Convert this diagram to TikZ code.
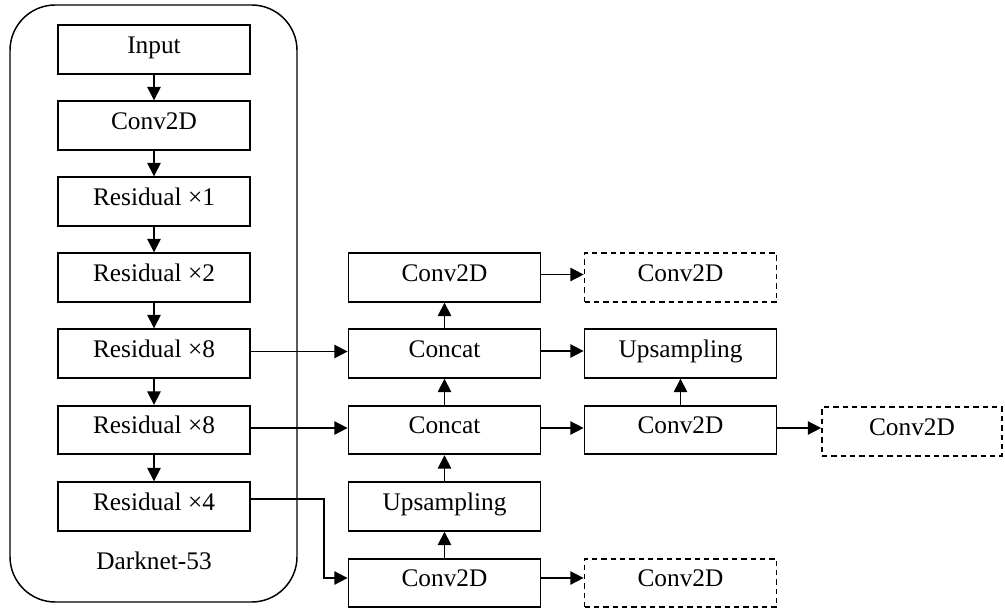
\documentclass[tikz,border=0pt]{standalone}
\usepackage{fontspec}
\setmainfont{Liberation Serif}
\usetikzlibrary{arrows.meta,calc}
\begin{document}
\begin{tikzpicture}[x=0.75pt,y=-0.75pt,
  blk/.style={draw, line width=1.3pt, minimum width=144pt, minimum height=36.5pt, inner sep=0pt, text height=13.5pt, text depth=8pt, font=\fontsize{19}{22}\selectfont},
  dblk/.style={blk, dash pattern=on 4pt off 3pt},
  conn/.style={line width=1.2pt, -{Triangle[length=10pt,width=10pt]}},
  frame/.style={draw, line width=1.1pt, rounded corners=34pt}]
\useasboundingbox (0,0) rectangle (1005,610);
\draw[frame] (10,5) rectangle (297,602);
\node[font=\fontsize{19}{22}\selectfont] (dk) at (154,561) {Darknet-53};
% left column
\node[blk] (in) at (154,49.5) {Input};
\node[blk] (c1) at (154,125.5) {Conv2D};
\node[blk] (r1) at (154,201.5) {Residual ×1};
\node[blk] (r2) at (154,277.5) {Residual ×2};
\node[blk] (r8a) at (154,353.5) {Residual ×8};
\node[blk] (r8b) at (154,430) {Residual ×8};
\node[blk] (r4) at (154,506.5) {Residual ×4};
% middle column
\node[blk] (mc1) at (444.5,277.5) {Conv2D};
\node[blk] (mcat1) at (444.5,353.5) {Concat};
\node[blk] (mcat2) at (444.5,430) {Concat};
\node[blk] (mup) at (444.5,506.5) {Upsampling};
\node[blk] (mc2) at (444.5,583) {Conv2D};
% right column
\node[dblk] (out1) at (680.5,277.5) {Conv2D};
\node[blk] (rup) at (680.5,353.5) {Upsampling};
\node[blk] (rc) at (680.5,430) {Conv2D};
\node[dblk] (out3) at (680.5,583) {Conv2D};
% far right
\node[dblk, minimum width=135pt] (out2) at (912,431.5) {Conv2D};
% left arrows
\draw[conn] (in) -- (c1);
\draw[conn] (c1) -- (r1);
\draw[conn] (r1) -- (r2);
\draw[conn] (r2) -- (r8a);
\draw[conn] (r8a) -- (r8b);
\draw[conn] (r8b) -- (r4);
% horizontal from backbone
\draw[conn] ($(r8a.east)+(0,-2)$) -- ($(mcat1.west)+(0,-2)$);
\draw[conn] ($(r8b.east)+(0,-2)$) -- ($(mcat2.west)+(0,-2)$);
\coordinate (k1) at (324,499);
\coordinate (k2) at (324,578);
\draw[conn] ($(r4.east)+(0,-7.5)$) -- (k1) -- (k2) -- ($(mc2.west)+(0,-5)$);
% middle column up arrows
\draw[conn] (mc2) -- (mup);
\draw[conn] (mup) -- (mcat2);
\draw[conn] (mcat2) -- (mcat1);
\draw[conn] (mcat1) -- (mc1);
% horizontal middle to right
\draw[conn] ($(mc1.east)+(0,-3)$) -- ($(out1.west)+(0,-3)$);
\draw[conn] ($(mcat1.east)+(0,-2.5)$) -- ($(rup.west)+(0,-2.5)$);
\draw[conn] ($(mcat2.east)+(0,-2)$) -- ($(rc.west)+(0,-2)$);
\draw[conn] ($(mc2.east)+(0,-5)$) -- ($(out3.west)+(0,-5)$);
\draw[conn] (rc) -- (rup);
\draw[conn] ($(rc.east)+(0,-2)$) -- ($(out2.west)+(0,-3.5)$);
\end{tikzpicture}
\end{document}
